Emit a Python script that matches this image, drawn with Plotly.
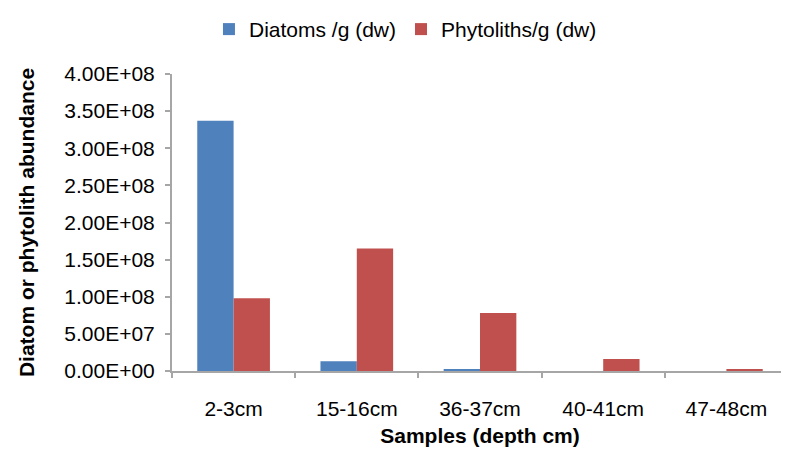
import plotly.graph_objects as go

categories = ["2-3cm", "15-16cm", "36-37cm", "40-41cm", "47-48cm"]
diatoms = [3.37e8, 1.3e7, 2.0e6, 0.0, 0.0]
phytoliths = [9.8e7, 1.65e8, 7.8e7, 1.6e7, 2.6e6]
y_ticks = [0, 5e7, 1e8, 1.5e8, 2e8, 2.5e8, 3e8, 3.5e8, 4e8]

fig = go.Figure()
fig.add_trace(go.Bar(x=categories, y=diatoms, name="Diatoms /g (dw)",
                     marker=dict(color="#4f81bd", line=dict(width=0))))
fig.add_trace(go.Bar(x=categories, y=phytoliths, name="Phytoliths/g (dw)",
                     marker=dict(color="#c0504d", line=dict(width=0))))

font_family = "Liberation Sans, Arial, sans-serif"
# page body has an 8px margin, so the figure is 8px smaller than the window
fig.update_layout(
    width=781, height=445,
    paper_bgcolor="white", plot_bgcolor="white",
    margin=dict(l=164, r=1, t=57, b=82),
    barmode="group", bargap=0.41, bargroupgap=0,
    font=dict(family=font_family, size=21, color="black"),
    legend=dict(orientation="h", x=0.06, xanchor="left", y=1.15, yanchor="middle",
                font=dict(size=21), itemwidth=30, traceorder="normal"),
    showlegend=True,
)
fig.update_xaxes(
    showline=True, linecolor="#a6a6a6", linewidth=2,
    ticks="outside", ticklen=5, tickcolor="#a6a6a6", tickwidth=2,
    tickson="boundaries", showgrid=False,
    tickfont=dict(size=21), ticklabelstandoff=18,
    title=dict(text="<b>Samples (depth cm)</b>", font=dict(size=21), standoff=9),
)
fig.update_yaxes(
    range=[0, 4e8], showline=True, linecolor="#a6a6a6", linewidth=2,
    ticks="outside", ticklen=5, tickcolor="#a6a6a6", tickwidth=2,
    tickvals=y_ticks, ticktext=[f"{v:.2E}" for v in y_ticks],
    showgrid=False, zeroline=False,
    tickfont=dict(size=21), ticklabelstandoff=6,
    title=dict(text="<b>Diatom or phytolith abundance</b>", font=dict(size=21), standoff=24),
)
fig.write_html("out.html")
